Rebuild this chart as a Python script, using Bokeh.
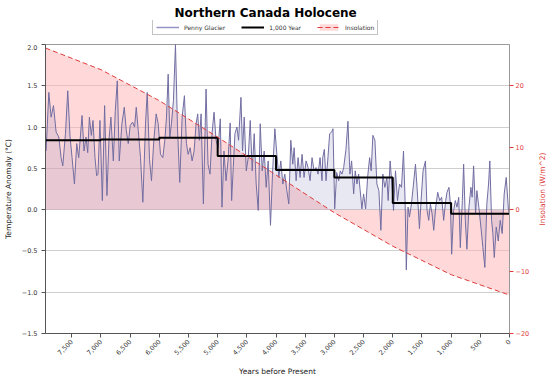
import math
from bokeh.plotting import figure
from bokeh.layouts import column, row
from bokeh.models import Range1d, LinearAxis, FixedTicker, Legend, LegendItem
from bokeh.embed import file_html
from bokeh.resources import INLINE

# ---------------- data ----------------
penny_years = [7940, 7893, 7854, 7813, 7768, 7722, 7683, 7654, 7608, 7569, 7529, 7495, 7454, 7415,
               7381, 7324, 7290, 7256, 7227, 7198, 7164, 7136, 7102, 7073, 7051, 7017, 6976, 6937,
               6897, 6863, 6829, 6788, 6754, 6720, 6686, 6641, 6600, 6566, 6532, 6498, 6458, 6424,
               6395, 6361, 6322, 6282, 6236, 6207, 6168, 6134, 6094, 6054, 6019, 5980, 5940, 5906,
               5877, 5848, 5820, 5792, 5758, 5723, 5689, 5650, 5609, 5570, 5535, 5506, 5472, 5438,
               5404, 5370, 5342, 5313, 5284, 5245, 5199, 5165, 5131, 5097, 5062, 5028, 4993, 4955,
               4926, 4892, 4857, 4823, 4786, 4761, 4733, 4704, 4670, 4642, 4601, 4574, 4545, 4510,
               4476, 4442, 4408, 4374, 4340, 4305, 4271, 4237, 4203, 4169, 4135, 4095, 4061, 4020,
               3986, 3952, 3918, 3884, 3850, 3815, 3781, 3747, 3713, 3690, 3656, 3622, 3588, 3554,
               3520, 3485, 3451, 3417, 3383, 3349, 3315, 3280, 3246, 3212, 3200, 3172, 3144, 3115,
               3081, 3047, 3024, 2995, 2961, 2927, 2899, 2870, 2841, 2802, 2768, 2734, 2705, 2670,
               2643, 2614, 2585, 2558, 2529, 2500, 2465, 2431, 2397, 2370, 2341, 2306, 2272, 2238,
               2204, 2170, 2136, 2101, 2079, 2045, 2016, 1987, 1953, 1919, 1884, 1850, 1816, 1789,
               1768, 1738, 1714, 1680, 1645, 1611, 1584, 1543, 1515, 1481, 1440, 1413, 1384, 1355,
               1327, 1298, 1264, 1230, 1196, 1162, 1128, 1093, 1071, 1037, 1013, 991, 957, 928,
               900, 870, 843, 808, 786, 757, 730, 695, 661, 640, 615, 581, 559, 525,
               490, 456, 422, 388, 359, 337, 307, 285, 261, 227, 193, 159, 125, 91,
               56, 17, 0]
penny_temps = [0.71, 1.42, 1.12, 1.26, 0.94, 0.88, 0.63, 0.53, 0.92, 1.44, 0.88, 0.63, 0.31, 0.80,
               0.63, 1.14, 0.71, 0.88, 0.69, 1.12, 0.90, 1.08, 0.63, 0.41, 0.43, 1.08, 0.11, 1.26,
               0.17, 0.84, 1.12, 0.59, 1.20, 1.56, 0.59, 1.04, 1.24, 0.96, 0.80, 1.02, 1.06, 1.00,
               1.24, 0.96, 0.63, 0.09, 1.04, 1.42, 0.61, 0.35, 0.84, 1.16, 1.04, 0.67, 0.63, 0.84,
               1.12, 1.64, 0.88, 1.04, 1.32, 2.00, 1.00, 0.33, 1.12, 1.38, 0.80, 0.67, 0.75, 0.59,
               0.71, 1.04, 1.16, 0.84, 1.16, 0.07, 1.46, 0.55, 0.43, 0.92, 1.18, 0.84, 0.75, 1.10,
               0.03, 0.71, 0.35, 0.59, 1.05, 0.11, 0.51, 0.92, 1.00, 0.84, 1.36, 0.71, 1.12, 0.47,
               0.63, 1.08, 0.47, 0.92, 0.31, -0.01, 1.04, 0.47, 0.71, 0.27, 0.59, -0.19, 0.43, 0.98,
               0.67, 0.39, 0.59, 0.31, 0.43, 0.23, 0.07, 0.84, 0.55, 0.75, 0.35, 0.63, 0.39, 0.67,
               0.39, 0.59, 0.51, 0.35, 0.63, 0.47, 0.51, 0.43, 0.63, 0.35, 0.63, 0.73, 0.35, 0.59,
               0.92, 0.94, 0.98, 0.01, 0.45, 0.35, 0.47, 0.43, 0.51, 0.73, 1.07, 0.43, 0.59, 0.19,
               0.47, 0.31, 0.43, 0.23, 0.01, 0.19, 0.01, 0.39, 0.63, 0.47, 0.90, 0.84, 0.31, 0.23,
               -0.25, 0.43, 0.27, 0.39, 0.11, 0.59, 0.31, -0.01, 0.47, 0.11, 0.31, 0.27, 0.71, 0.11,
               -0.73, 0.03, -0.09, 0.07, 0.31, 0.55, 0.27, -0.23, 0.11, 0.47, 0.59, -0.01, -0.13, 0.07,
               -0.05, -0.25, 0.03, 0.21, 0.11, 0.15, -0.13, 0.11, 0.21, 0.27, 0.07, -0.54, -0.01, 0.11,
               0.03, 0.15, -0.46, 0.11, 0.55, -0.13, -0.48, 0.03, 0.27, 0.15, 0.53, -0.05, 0.23, 0.03,
               -0.21, -0.46, -0.70, 0.07, 0.31, 0.59, -0.13, -0.29, -0.58, -0.21, -0.38, -0.13, -0.29, 0.19,
               0.39, -0.01, -0.05]

step_years = [7950, 7000, 6000, 5000, 4000, 3000, 2000, 1000, 0]
step_temps = [0.84, 0.85, 0.87, 0.65, 0.48, 0.39, 0.08, -0.05, -0.05]

insol_years = [7950, 7000, 6000, 5000, 4000, 3000, 2000, 1000, 0]
insol_values = [26.1, 22.6, 17.6, 11.7, 5.6, -0.5, -5.9, -10.5, -13.8]

x_ticks = [7500, 7000, 6500, 6000, 5500, 5000, 4500, 4000, 3500, 3000, 2500, 2000, 1500, 1000, 500, 0]
x_tick_labels = ["7,500", "7,000", "6,500", "6,000", "5,500", "5,000", "4,500", "4,000",
                 "3,500", "3,000", "2,500", "2,000", "1,500", "1,000", "500", "0"]
temp_ticks = [-1.5, -1.0, -0.5, 0.0, 0.5, 1.0, 1.5, 2.0]
temp_tick_labels = ["\u22121.5", "\u22121.0", "\u22120.5", "0.0", "0.5", "1.0", "1.5", "2.0"]
insol_ticks = [-20, -10, 0, 10, 20]
insol_tick_labels = ["\u221220", "\u221210", "0", "10", "20"]

series_names = ["Penny Glacier", "1,000 Year", "Insolation"]

# ---------------- styles ----------------
FONT = "DejaVu Sans"
RED = "#dd3b3b"
PENNY = "#716da1"
NAN = float("nan")

# ---------------- header (title + legend) ----------------
head = figure(width=534, height=44, x_range=Range1d(0, 1), y_range=Range1d(0, 1),
              output_backend="svg", toolbar_location=None, title="Northern Canada Holocene",
              x_axis_type=None, y_axis_type=None,
              min_border_left=0, min_border_right=0, min_border_top=20, min_border_bottom=0)
head.outline_line_color = None
head.grid.visible = False
head.title.text_font = FONT
head.title.text_font_size = "12px"
head.title.text_font_style = "bold"
head.title.text_color = "#000000"
head.title.align = "left"
head.title.standoff = 1
head.title.offset = 129

# swatch-only renderers (no visible data) used for the legend entries
lg_pen = head.line(x=[NAN], y=[NAN], line_color="#9592c4", line_width=1.5)
lg_step = head.line(x=[NAN], y=[NAN], line_color="black", line_width=2)
lg_area = head.varea(x=[NAN], y1=[NAN], y2=[NAN], fill_color="#ffb3b3", fill_alpha=0.5)
lg_ins = head.line(x=[NAN], y=[NAN], line_color=RED, line_width=1, line_dash="5 3")

legend = Legend(items=[LegendItem(label=series_names[0], renderers=[lg_pen]),
                       LegendItem(label=series_names[1], renderers=[lg_step]),
                       LegendItem(label=series_names[2], renderers=[lg_area, lg_ins])],
                orientation="horizontal", location=(107, 9))
legend.label_text_font = FONT
legend.label_text_font_size = "6px"
legend.label_text_color = "#333333"
legend.glyph_width = 23
legend.glyph_height = 8
legend.label_standoff = 5
legend.spacing = 16
legend.padding = 3
legend.margin = 0
legend.border_line_color = "#888888"
legend.label_height = 8
head.add_layout(legend, "center")

# ---------------- main chart ----------------
p = figure(width=534, height=336, x_range=Range1d(7950, 0), y_range=Range1d(-1.5, 2.0),
           output_backend="svg", toolbar_location=None,
           min_border_left=43, min_border_right=25, min_border_top=0, min_border_bottom=47)
p.extra_y_ranges = {"ins": Range1d(-20, 26.667)}

p.outline_line_color = "#999999"
p.background_fill_color = "white"
p.border_fill_color = "white"
p.xgrid.visible = False
p.ygrid.grid_line_color = "#cfcfcf"
p.ygrid.ticker = FixedTicker(ticks=temp_ticks)

ins_area = p.varea(x=insol_years, y1=[0] * len(insol_years), y2=insol_values, y_range_name="ins",
                   fill_color="#ffb3b3", fill_alpha=0.5)
gl_area = p.varea(x=penny_years, y1=[0] * len(penny_years), y2=penny_temps,
                  fill_color="#8080b8", fill_alpha=0.18)
gl_line = p.line(penny_years, penny_temps, line_color=PENNY, line_width=1)
step_r = p.step(step_years, step_temps, mode="after", line_color="black", line_width=2)
ins_line = p.line(insol_years, insol_values, y_range_name="ins", line_color=RED,
                  line_width=1, line_dash="5 3")

xa = p.xaxis[0]
xa.ticker = FixedTicker(ticks=x_ticks)
xa.major_label_overrides = dict(zip(x_ticks, x_tick_labels))
xa.major_label_orientation = math.pi / 4
xa.axis_label = "Years before Present"

ya = p.yaxis[0]
ya.ticker = FixedTicker(ticks=temp_ticks)
ya.major_label_overrides = dict(zip(temp_ticks, temp_tick_labels))
ya.axis_label = "Temperature Anomaly (\u00b0C)"

ra = LinearAxis(y_range_name="ins", ticker=FixedTicker(ticks=insol_ticks))
ra.major_label_overrides = dict(zip(insol_ticks, insol_tick_labels))
p.add_layout(ra, "right")

for ax in (xa, ya, ra):
    ax.major_label_text_font = FONT
    ax.major_label_text_font_size = "6.5px"
    ax.axis_label_text_font = FONT
    ax.axis_label_text_font_size = "7.5px"
    ax.axis_label_text_font_style = "normal"
    ax.major_tick_out = 4
    ax.major_tick_in = 0
    ax.minor_tick_out = 0
    ax.minor_tick_in = 0
    ax.axis_line_color = "#555555"
    ax.major_tick_line_color = "#555555"
    ax.major_label_text_color = "#333333"
    ax.axis_label_text_color = "#222222"

xa.major_label_standoff = 3
xa.axis_label_standoff = 7
ya.major_label_standoff = 4
ya.axis_label_standoff = 6
ra.major_label_standoff = 2

ra.axis_line_color = "#999999"
ra.major_tick_line_color = RED
ra.major_label_text_color = RED

# ---------------- right-hand axis title (reads bottom to top) ----------------
side = figure(width=16, height=380, x_range=Range1d(0, 1), y_range=Range1d(0, 1),
              output_backend="svg", toolbar_location=None, x_axis_type=None,
              min_border_left=14, min_border_right=0, min_border_top=44, min_border_bottom=47)
side.outline_line_color = None
side.grid.visible = False
side.border_fill_color = "white"
sa = side.yaxis[0]
sa.ticker = FixedTicker(ticks=[])
sa.axis_line_color = None
sa.major_tick_out = 0
sa.major_tick_in = 0
sa.minor_tick_out = 0
sa.minor_tick_in = 0
sa.major_label_standoff = 0
sa.axis_label = "Insolation (W/m^2)"
sa.axis_label_text_font = FONT
sa.axis_label_text_font_size = "7.5px"
sa.axis_label_text_font_style = "normal"
sa.axis_label_text_color = RED
sa.axis_label_standoff = 3

layout = row(column(head, p, spacing=0), side, spacing=0)
open("out.html", "w").write(file_html(layout, INLINE))
